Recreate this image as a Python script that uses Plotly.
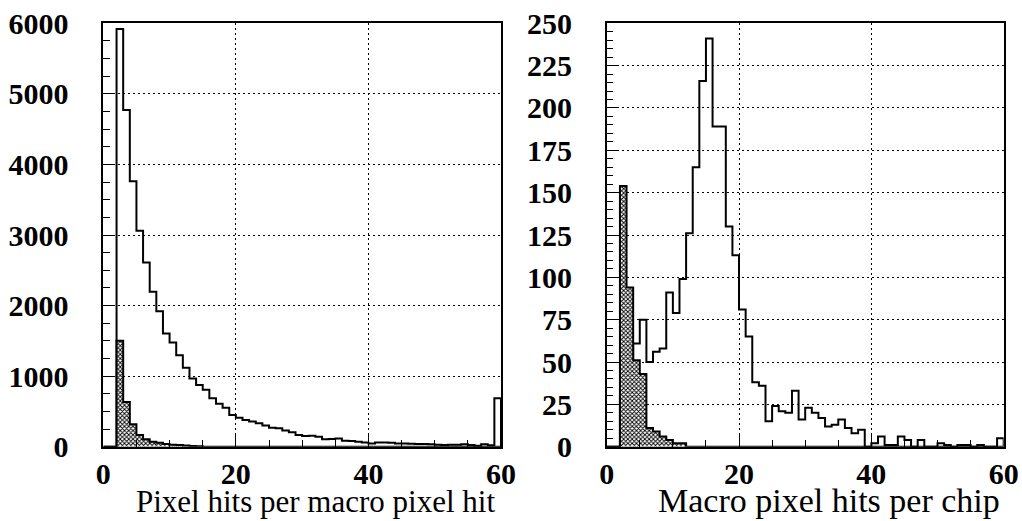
import plotly.graph_objects as go

# ---------------- data (bin low edges 0..59, bin width 1) ----------------
bin_low = list(range(60))

left_all = [0, 0, 5920, 4770, 3760, 3060, 2610, 2195, 1920, 1605,
            1475, 1295, 1118, 968, 873, 808, 685, 610, 553, 450,
            410, 380, 356, 331, 300, 270, 260, 228, 203, 167,
            152, 156, 142, 106, 109, 116, 86, 80, 71, 58,
            47, 61, 60, 56, 47, 47, 43, 38, 38, 33,
            28, 24, 28, 28, 33, 24, 14, 33, 19, 685]

left_sub = [0, 0, 1500, 632, 317, 165, 104, 71, 57, 38,
            28, 24, 18, 10, 5, 0, 0, 0, 0, 0,
            0, 0, 0, 0, 0, 0, 0, 0, 0, 0,
            0, 0, 0, 0, 0, 0, 0, 0, 0, 0,
            0, 0, 0, 0, 0, 0, 0, 0, 0, 0,
            0, 0, 0, 0, 0, 0, 0, 0, 0, 0]

right_all = [0, 0, 30, 45, 61, 75, 50, 56, 58, 91,
             79, 99, 126, 165, 216, 241, 189, 189, 130, 113,
             81, 65, 38, 36, 15, 24, 21, 20, 33, 16,
             23, 20, 17, 12, 13, 16, 11, 8, 10, 0,
             2, 6, 1, 1, 6, 4, 0, 4, 0, 0,
             2, 1, 0, 1, 1, 0, 1, 0, 0, 5]

right_sub = [0, 0, 154, 94, 51, 43, 11, 9, 6, 4,
             2, 2, 0, 0, 0, 0, 0, 0, 0, 0,
             0, 0, 0, 0, 0, 0, 0, 0, 0, 0,
             0, 0, 0, 0, 0, 0, 0, 0, 0, 0,
             0, 0, 0, 0, 0, 0, 0, 0, 0, 0,
             0, 0, 0, 0, 0, 0, 0, 0, 0, 0]

left_title = "Pixel hits per macro pixel hit"
right_title = "Macro pixel hits per chip"
x_ticks = [0, 20, 40, 60]
left_y_max, left_y_step = 6000, 1000
right_y_max, right_y_step = 250, 25


def step_xy(lows, values):
    edges = list(lows) + [lows[-1] + 1]
    xs = [edges[0]] + edges[:-1] + [edges[-1], edges[-1]]
    ys = [0] + list(values) + [values[-1], 0]
    return xs, ys


fig = go.Figure()

pattern = dict(shape="x", fgcolor="black", bgcolor="white", size=3, solidity=0.5)

for vals_all, vals_sub, xa, ya in [(left_all, left_sub, "x", "y"),
                                    (right_all, right_sub, "x2", "y2")]:
    xs, ys = step_xy(bin_low, vals_all)
    fig.add_trace(go.Scatter(x=xs, y=ys, mode="lines", line_shape="hv",
                             line=dict(color="black", width=2),
                             xaxis=xa, yaxis=ya, showlegend=False, hoverinfo="skip"))
    xs2, ys2 = step_xy(bin_low, vals_sub)
    fig.add_trace(go.Scatter(x=xs2, y=ys2, mode="lines", line_shape="hv",
                             line=dict(color="black", width=2),
                             fill="tozeroy", fillcolor="white", fillpattern=pattern,
                             xaxis=xa, yaxis=ya, showlegend=False, hoverinfo="skip"))

W, H = 1022, 521
tickfont = dict(family="Liberation Serif", size=30, color="black", weight="bold")
grid = dict(showgrid=True, gridcolor="black", gridwidth=1, griddash="2px,3px")
line = dict(showline=True, linecolor="black", linewidth=1.5, mirror=True, zeroline=False)


def xaxis(domain):
    return dict(domain=domain, range=[0, 60], tickmode="array", tickvals=x_ticks,
                ticks="inside", ticklen=12, tickcolor="black", tickwidth=1,
                tickfont=tickfont, ticklabelstandoff=0,
                minor=dict(dtick=5, tick0=0, ticks="inside", ticklen=7,
                           tickcolor="black", showgrid=False),
                **grid, **line)


def yaxis(anchor, ymax, step):
    return dict(domain=[1 - 446.7 / H, 1 - 23.3 / H], range=[0, ymax], anchor=anchor,
                dtick=step, tick0=0, tickformat="d",
                ticks="inside", ticklen=12, tickcolor="black", tickwidth=1,
                tickfont=tickfont, ticklabelstandoff=27,
                minor=dict(dtick=step / 4 if ymax > 1000 else step / 5, ticks="inside",
                           ticklen=7, tickcolor="black", showgrid=False),
                **grid, **line)


fig.update_layout(
    width=W, height=H,
    margin=dict(l=0, r=0, t=0, b=0),
    paper_bgcolor="white", plot_bgcolor="white",
    template=None,
    xaxis=xaxis([103.3 / W, 501 / W]) | dict(anchor="y"),
    yaxis=yaxis("x", left_y_max, left_y_step),
    xaxis2=xaxis([606.7 / W, 1003.7 / W]) | dict(anchor="y2"),
    yaxis2=yaxis("x2", right_y_max, right_y_step),
    annotations=[
        dict(text=left_title, xref="x domain", x=0.99, xanchor="right",
             yref="paper", y=0.0, yanchor="bottom", showarrow=False,
             font=dict(family="Liberation Serif", size=31, color="black")),
        dict(text=right_title, xref="x2 domain", x=0.995, xanchor="right",
             yref="paper", y=0.0, yanchor="bottom", showarrow=False,
             font=dict(family="Liberation Serif", size=34, color="black")),
    ],
)

fig.write_html("out.html")
